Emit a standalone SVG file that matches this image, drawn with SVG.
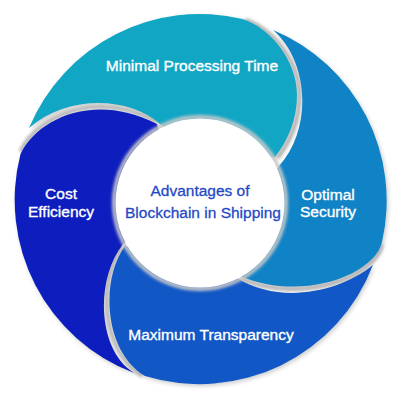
<svg xmlns="http://www.w3.org/2000/svg" width="400" height="400" viewBox="0 0 400 400">
<defs>
<filter id="blur" x="-20%" y="-20%" width="140%" height="140%"><feGaussianBlur stdDeviation="2.2"/></filter>
<filter id="blur1" x="-20%" y="-20%" width="140%" height="140%"><feGaussianBlur stdDeviation="1.5"/></filter>
<path id="p-teal" d="M29,128 A185 185 0 0 1 242.6,19 C270,28 297,60 297,95 C297,120 288,140 275,157 L200,150 L160,124 C130,97 68,94 29,128 Z"/>
<path id="p-opt" d="M273,30 A185 185 0 0 1 382,242 C374,276 300,302 240,276 L250,200 L279,166 C312,130 310,62 273,30 Z"/>
<path id="p-max" d="M125,246 C100,280 104,352 145,376 A186 186 0 0 0 373,265 C340,292 280,305 237,278 Z"/>
<path id="p-cost" d="M20.5,154 C38,118 95,92 157,124 L175,200 L123,244 C95,280 97,350 134,373 A185 185 0 0 1 20.5,154 Z"/>
</defs>
<style>
.lbl{font-family:"Liberation Sans",Arial,sans-serif;font-size:15.5px;fill:#ffffff;stroke:#ffffff;stroke-width:0.35px;text-anchor:middle}
.ctr{font-family:"Liberation Sans",Arial,sans-serif;font-size:15.5px;fill:#1f4ac6;stroke:#1f4ac6;stroke-width:0.3px;text-anchor:middle}
.hs{fill:none;stroke:#b4b4b4;stroke-width:4;filter:url(#blur1)}
</style>
<rect width="400" height="400" fill="#ffffff"/>
<g id="shadows" opacity="0.4" fill="#808080" filter="url(#blur)" transform="translate(1.5,2)">
<use href="#p-teal"/><use href="#p-opt"/><use href="#p-max"/><use href="#p-cost"/>
</g>
<g id="connectors">
<path class="hs" transform="translate(2.5,1)" d="M242.6,19 C270,28 297,60 297,95 C297,120 288,140 275,157"/>
<path class="hs" transform="translate(0,-2.5)" d="M20.5,154 C38,118 95,92 157,124"/>
<path class="hs" transform="translate(-2.5,0)" d="M125,246 C100,280 104,352 145,376"/>
<path class="hs" transform="translate(0,2.5)" d="M382,242 C374,276 300,302 240,276"/>
</g>
<g id="node-minimal"><use href="#p-teal" fill="#12a6c5"/></g>
<g id="node-optimal"><use href="#p-opt" fill="#1083c6"/></g>
<g id="node-maximum"><use href="#p-max" fill="#1157c6"/></g>
<g id="node-cost"><use href="#p-cost" fill="#0d1dbe"/></g>
<g id="node-center">
<circle cx="200" cy="203" r="86" fill="none" stroke="#c8c8c8" stroke-width="4" filter="url(#blur1)"/>
<circle cx="200" cy="203" r="84.5" fill="#ffffff"/>
<text class="ctr" x="200" y="196">Advantages of</text>
<text class="ctr" x="203" y="218">Blockchain in Shipping</text>
</g>
<text class="lbl" x="192" y="71">Minimal Processing Time</text>
<text class="lbl" x="61" y="199">Cost</text>
<text class="lbl" x="61" y="217">Efficiency</text>
<text class="lbl" x="328" y="199.5">Optimal</text>
<text class="lbl" x="328" y="217">Security</text>
<text class="lbl" x="211" y="340">Maximum Transparency</text>
</svg>
